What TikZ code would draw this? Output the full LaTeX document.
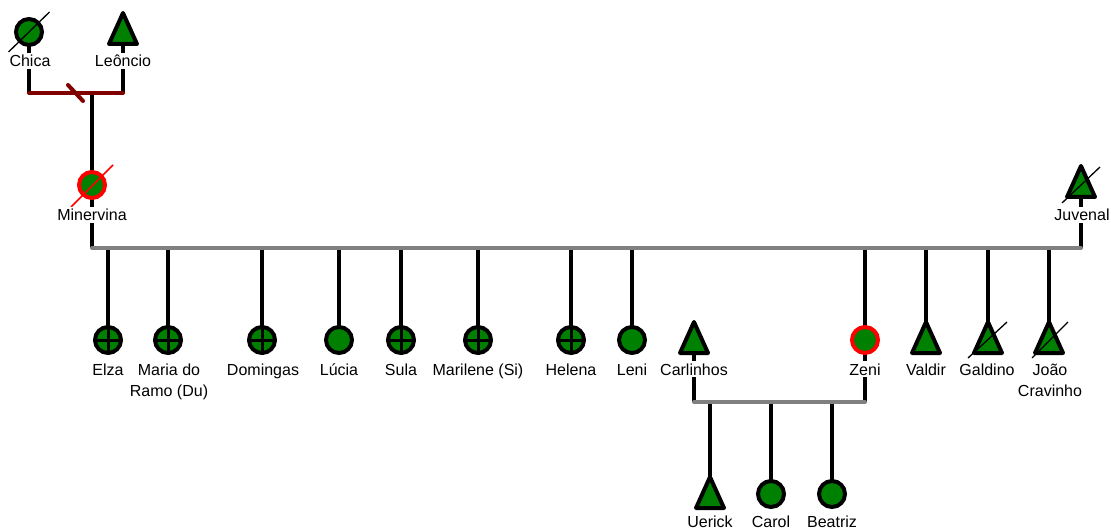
\documentclass[tikz,border=0pt]{standalone}
\usepackage{fontspec}
\setmainfont{Liberation Sans}
\usetikzlibrary{calc}
\definecolor{tgreen}{HTML}{008000}
\definecolor{tred}{HTML}{FF0000}
\definecolor{lgray}{HTML}{808080}
\definecolor{maroon}{HTML}{800000}
\newcommand\lbfont{\fontsize{16}{21}\selectfont}
\tikzset{
  lbl/.style={fill=white, inner sep=2pt, font=\lbfont, anchor=base, align=center},
  fem/.style={circle, draw=black, line width=4pt, fill=tgreen, minimum size=26pt, inner sep=0pt},
  femred/.style={fem, draw=tred},
  rel/.style={line width=4pt, black},
  mar/.style={line width=4pt, lgray, line cap=round},
  div/.style={line width=4pt, maroon, line cap=round},
  dead/.style={line width=1.3pt, black},
  deadred/.style={line width=1.5pt, tred},
  male/.style={draw=black, fill=tgreen, line width=4pt, line join=round},
  crs/.style={line width=3pt, black}
}
\begin{document}
\begin{tikzpicture}[x=1pt,y=-1pt]
\useasboundingbox (0,0) rectangle (1111,529);
% people positions
\coordinate (chica) at (29,32);
\coordinate (leoncio) at (123,28.5);
\coordinate (minervina) at (92,185);
\coordinate (juvenal) at (1081,181.5);
\coordinate (elza) at (108,340);
\coordinate (maria) at (168,340);
\coordinate (domingas) at (262,340);
\coordinate (lucia) at (339,340);
\coordinate (sula) at (401,340);
\coordinate (marilene) at (478,340);
\coordinate (helena) at (571,340);
\coordinate (leni) at (632,340);
\coordinate (carlinhos) at (694,337.5);
\coordinate (zeni) at (865,340);
\coordinate (valdir) at (926,337.5);
\coordinate (galdino) at (988,337.5);
\coordinate (joao) at (1049,337.5);
\coordinate (uerick) at (710,492.5);
\coordinate (carol) at (771,494);
\coordinate (beatriz) at (832,494);
% union lines
\coordinate (m1l) at (29,93);
\coordinate (m1r) at (123,93);
\coordinate (m1c) at (92,93);
\coordinate (m1d) at (75.5,93);
\coordinate (m2l) at (92,248);
\coordinate (m2r) at (1081,248);
\coordinate (m3l) at (694,402);
\coordinate (m3r) at (865,402);
% black relation lines
\draw[rel] (chica) -- (m1l);
\draw[rel] (leoncio) -- (m1r);
\draw[rel] (m1c) -- (minervina) -- (m2l);
\draw[rel] (juvenal) -- (m2r);
\foreach \c in {elza,maria,domingas,lucia,sula,marilene,helena,leni,zeni,valdir,galdino,joao}
  \draw[rel] (\c |- m2l) -- (\c);
\draw[rel] (carlinhos) -- (m3l);
\draw[rel] (zeni) -- (m3r);
\foreach \c in {uerick,carol,beatriz}
  \draw[rel] (\c |- m3l) -- (\c);
% union lines
\draw[div] (m1l) -- (m1r);
\draw[div] (m1d) +(-7.5,-8) -- +(7.5,8);
\draw[mar] (m2l) -- (m2r);
\draw[mar] (m3l) -- (m3r);
% female symbols
\node[fem] (chicaS) at (chica) {};
\node[femred] (minervinaS) at (minervina) {};
\foreach \c in {elza,maria,domingas,sula,marilene,helena}{
  \node[fem] (\c S) at (\c) {};
  \draw[crs] (\c S.north) -- (\c S.south) (\c S.west) -- (\c S.east);
}
\node[fem] (luciaS) at (lucia) {};
\node[fem] (leniS) at (leni) {};
\node[femred] (zeniS) at (zeni) {};
\node[fem] (carolS) at (carol) {};
\node[fem] (beatrizS) at (beatriz) {};
% male symbols
\foreach \c in {leoncio,juvenal,carlinhos,valdir,galdino,joao,uerick}
  \filldraw[male] (\c) +(0,-15.5) -- +(14,15.5) -- +(-14,15.5) -- cycle;
% deceased marks
\draw[dead] (chica) +(-20.5,20) -- +(20.5,-20);
\draw[deadred] (minervina) +(-21,22) -- +(21,-20);
\draw[dead] (juvenal) +(-19,21.5) -- +(19,-14.5);
\draw[dead] (galdino) +(-20,20.5) -- +(19,-15.5);
\draw[dead] (joao) +(-17,20.5) -- +(19,-15.5);
% labels
\node[lbl] (chicaL) at (30,67) {Chica};
\node[lbl] (leoncioL) at (123,67) {Leôncio};
\node[lbl] (minervinaL) at (92,221) {Minervina};
\node[lbl] (juvenalL) at (1082,221) {Juvenal};
\node[lbl] (elzaL) at (108,375) {Elza};
\node[lbl] (mariaL) at (169,396) {Maria do\\Ramo (Du)};
\node[lbl] (domingasL) at (263,375) {Domingas};
\node[lbl] (luciaL) at (339,375) {Lúcia};
\node[lbl] (sulaL) at (401,375) {Sula};
\node[lbl] (marileneL) at (478,375) {Marilene (Si)};
\node[lbl] (helenaL) at (571,375) {Helena};
\node[lbl] (leniL) at (632,375) {Leni};
\node[lbl] (carlinhosL) at (694,375) {Carlinhos};
\node[lbl] (zeniL) at (865,375) {Zeni};
\node[lbl] (valdirL) at (926,375) {Valdir};
\node[lbl] (galdinoL) at (987,375) {Galdino};
\node[lbl] (joaoL) at (1050,396) {João\\Cravinho};
\node[lbl] (uerickL) at (710,527) {Uerick};
\node[lbl] (carolL) at (771,527) {Carol};
\node[lbl] (beatrizL) at (832,527) {Beatriz};
\end{tikzpicture}
\end{document}
